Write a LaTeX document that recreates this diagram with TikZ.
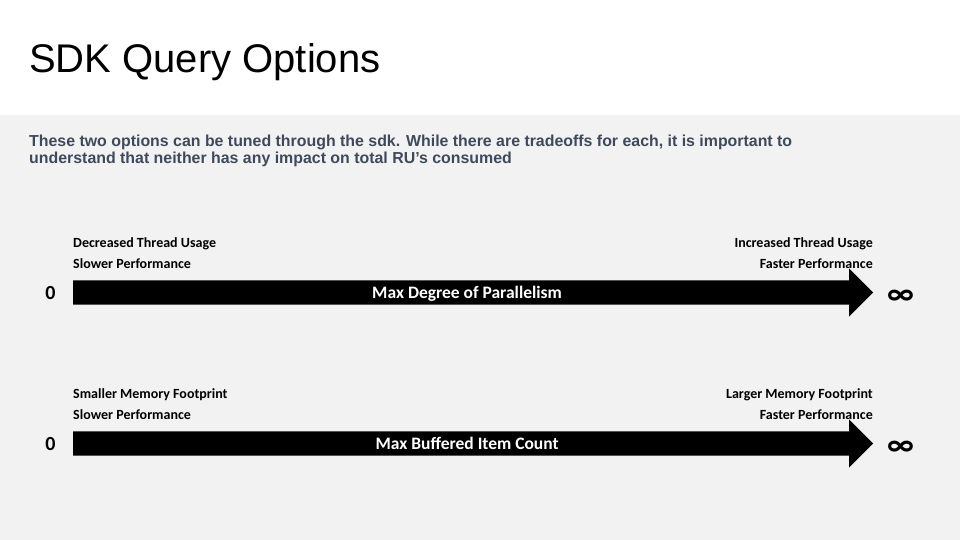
\documentclass[tikz,border=0pt]{standalone}
\usepackage{fontspec}
\setmainfont{Liberation Sans}
\newfontfamily\calibri{Carlito}
\usetikzlibrary{shapes.arrows, positioning}
\definecolor{panelbg}{RGB}{242,242,242}
\definecolor{bodytext}{RGB}{62,74,92}
\tikzset{
  bigarrow/.style={single arrow, fill=black, draw=none, text=white,
                   single arrow head extend=12pt, single arrow head indent=0pt,
                   minimum width=48pt, minimum height=800pt, inner sep=0pt,
                   text height=18pt, text depth=6pt, anchor=tail,
                   font=\calibri\bfseries\fontsize{17.5}{17.5}\selectfont},
  hint/.style={inner sep=0pt, font=\calibri\bfseries\fontsize{14}{14}\selectfont},
  zero/.style={inner sep=0pt, font=\calibri\bfseries\fontsize{20}{20}\selectfont},
  infinity/.style={inner sep=0pt, font=\calibri\bfseries\fontsize{32}{32}\selectfont},
}

\begin{document}
\begin{tikzpicture}[x=1pt, y=-1pt]
  \useasboundingbox (0,0) rectangle (960,540);
  \fill[white] (0,0) rectangle (960,115);
  \fill[panelbg] (0,115) rectangle (960,540);

  \node[anchor=base west, inner sep=0pt, font=\fontsize{40}{40}\selectfont] (title) at (29,73) {SDK Query Options};
  \node[anchor=north west, inner sep=0pt, align=left, text=bodytext,
        font=\bfseries\fontsize{15.9}{17}\selectfont] (intro) at (29,135)
        {These two options can be tuned through the sdk. While there are tradeoffs for each, it is important to\\
         understand that neither has any impact on total RU’s consumed};

  % parallelism
  \node[bigarrow] (mdop) at (73,292.5) {Max Degree of Parallelism};
  \node[zero] (zero1) at (50.5,293) {0};
  \node[infinity] (inf1) at (900.5,297.5) {∞};
  \node[hint, anchor=base west] (dec) at (73,247) {Decreased Thread Usage};
  \node[hint, anchor=base west] (slow1) at (73,268) {Slower Performance};
  \node[hint, anchor=base east] (inc) at (873,247) {Increased Thread Usage};
  \node[hint, anchor=base east] (fast1) at (873,268) {Faster Performance};

  % buffered items
  \node[bigarrow] (mbic) at (73,443.5) {Max Buffered Item Count};
  \node[zero] (zero2) at (50.5,444) {0};
  \node[infinity] (inf2) at (900.5,448) {∞};
  \node[hint, anchor=base west] (small) at (73,398) {Smaller Memory Footprint};
  \node[hint, anchor=base west] (slow2) at (73,419) {Slower Performance};
  \node[hint, anchor=base east] (large) at (873,398) {Larger Memory Footprint};
  \node[hint, anchor=base east] (fast2) at (873,419) {Faster Performance};
\end{tikzpicture}
\end{document}
